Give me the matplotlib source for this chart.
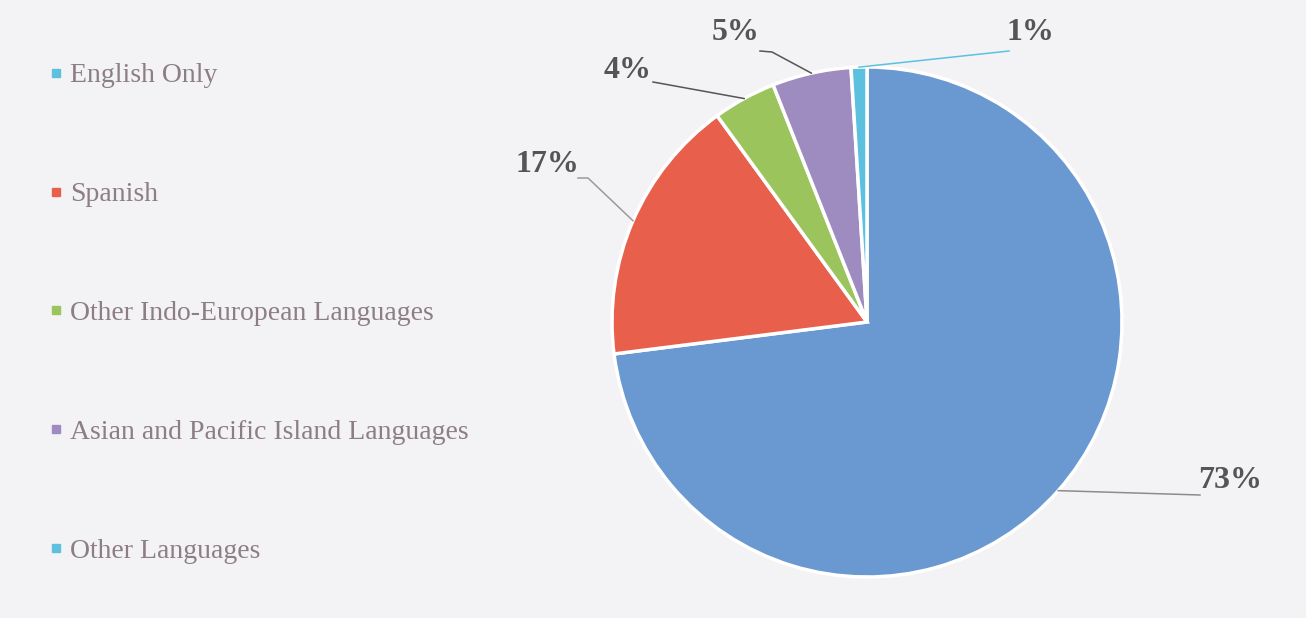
import matplotlib
matplotlib.use("Agg")
import matplotlib.pyplot as plt
from matplotlib.lines import Line2D
import numpy as np

# Languages spoken at home, share of population
categories = ["English Only", "Spanish", "Other Indo-European Languages",
              "Asian and Pacific Island Languages", "Other Languages"]
shares = [73, 17, 4, 5, 1]
slice_colors = ["#6A98D0", "#E8604C", "#9CC45C", "#9E8BC0", "#5EC0DF"]
legend_colors = ["#5EC0DF", "#E8604C", "#9CC45C", "#9E8BC0", "#5EC0DF"]
leader_colors = ["#8C8C8C", "#9A9A9A", "#555555", "#555555", "#5EC0DF"]

# label anchor (text centre) and the elbow where the leader line bends, in pixels
label_xy = [(1230, 480), (547, 164), (628, 70), (736, 33), (1030, 32)]
elbow_xy = [(1200, 495), (588, 178), (653, 82), (772, 52), (1009, 51)]
line_start = [(1200, 495), (578, 178), (653, 82), (760, 51), (1009, 51)]

W, H = 1306, 618
fig = plt.figure(figsize=(W / 100, H / 100), dpi=100)
fig.patch.set_facecolor("#F3F3F6")
ax = fig.add_axes([0, 0, 1, 1])
ax.set_aspect("equal")

cx, cy, r = 867, H - 322, 255
wedges, _ = ax.pie(shares, colors=slice_colors, startangle=90, counterclock=False,
                   center=(cx, cy), radius=r, frame=True,
                   wedgeprops=dict(edgecolor="white", linewidth=2.5))
ax.set_xlim(0, W)
ax.set_ylim(0, H)
ax.axis("off")

for w, val, (lx, ly), (ex, ey), (sx, sy), lc in zip(
        wedges, shares, label_xy, elbow_xy, line_start, leader_colors):
    mid = np.deg2rad((w.theta1 + w.theta2) / 2)
    px, py = cx + r * np.cos(mid), cy + r * np.sin(mid)
    ax.plot([sx, ex, px], [H - sy, H - ey, py], color=lc, lw=1.1, zorder=1)
    ax.text(lx, H - ly, f"{val}%", ha="center", va="center", fontsize=23,
            fontweight="bold", family="Liberation Serif", color="#555555")

handles = [Line2D([], [], marker="s", linestyle="none", markersize=6,
                  markerfacecolor=c, markeredgecolor=c) for c in legend_colors]
leg = fig.legend(handles, categories, loc="upper left",
                 bbox_to_anchor=(50 / W, 1 - 63 / H), borderaxespad=0, borderpad=0,
                 frameon=False, labelspacing=3.36, handletextpad=0.27, handlelength=0.45,
                 prop=dict(family="Liberation Serif", size=20))
for t in leg.get_texts():
    t.set_color("#8C7E84")

fig.savefig("out.png", dpi=100, facecolor=fig.get_facecolor())
